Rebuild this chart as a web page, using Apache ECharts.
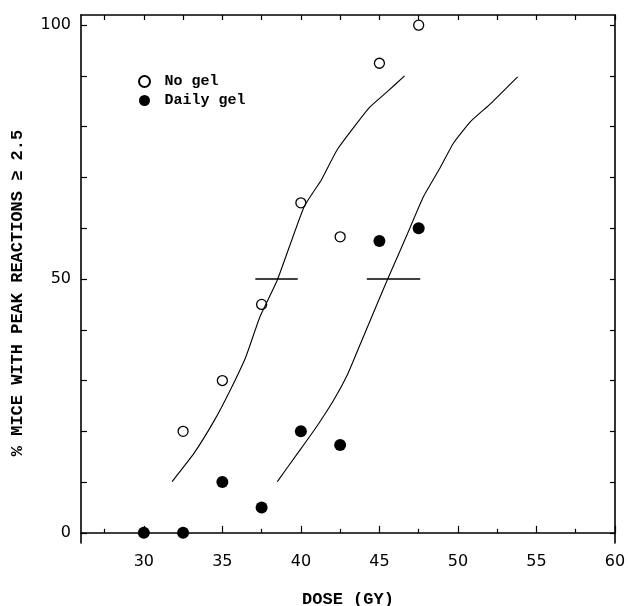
<!DOCTYPE html>
<html>
<head>
<meta charset="utf-8">
<script src="https://cdn.jsdelivr.net/npm/echarts@6/dist/echarts.min.js"></script>
<style>
html,body{margin:0;padding:0;background:#fff;}
#chart{width:628px;height:606px;}
</style>
</head>
<body>
<div id="chart"></div>
<script>
// Data
const noGelDose = [32.5, 35, 37.5, 40, 42.5, 45, 47.5];
const noGelPct = [20, 30, 45, 65, 58.3, 92.5, 100];
const dailyGelDose = [30, 32.5, 35, 37.5, 40, 42.5, 45, 47.5];
const dailyGelPct = [0, 0, 10, 5, 20, 17.3, 57.5, 60];

// Fitted curves
const noGelCurveX = [31.8, 33.2, 34.5, 35.5, 36.5, 37.4, 38.5, 40.2, 41.3, 42.3, 43.4, 44.4, 45.5, 46.6];
const noGelCurveY = [10.1, 15.7, 22.2, 28.1, 34.7, 42.6, 49.8, 64.2, 69.5, 75.4, 80.0, 83.9, 86.9, 90.0];
const dailyGelCurveX = [38.5, 39.8, 41.0, 42.1, 43.0, 43.8, 44.6, 45.5, 46.8, 47.8, 48.9, 49.7, 50.8, 52.1, 53.8];
const dailyGelCurveY = [10.1, 15.7, 20.9, 26.2, 31.4, 37.3, 43.2, 49.8, 59.0, 66.2, 72.1, 76.7, 81.0, 84.6, 89.8];

// ED50 markers
const noGelED50X = [37.1, 39.8];
const dailyGelED50X = [44.2, 47.6];
const ed50Level = 50;

// Ticks
const xMajorTicks = [30, 35, 40, 45, 50, 55, 60];
const xMinorTicks = [27.5, 32.5, 37.5, 42.5, 47.5, 52.5, 57.5];
const xAllTicks = [27.5, 30, 32.5, 35, 37.5, 40, 42.5, 45, 47.5, 50, 52.5, 55, 57.5, 60];
const yTicks = [0, 10, 20, 30, 40, 50, 60, 70, 80, 90, 100];
const yLabels = [0, 50, 100];

const zip = (a, b) => a.map((v, i) => [v, b[i]]);

const chart = echarts.init(document.getElementById('chart'), null, {renderer: 'canvas'});
const axisLine = {show: true, lineStyle: {color: '#000', width: 1.6}};
const labelFont = {color: '#000', fontFamily: 'DejaVu Sans', fontSize: 16};
const titleFont = {color: '#000', fontFamily: 'Liberation Mono', fontWeight: 'bold', fontSize: 17};

chart.setOption({
  animation: false,
  backgroundColor: '#fff',
  grid: {left: 81, right: 13, top: 15, bottom: 63, containLabel: false, outerBoundsMode: 'none'},
  legend: {
    left: 133, top: 69, orient: 'vertical', itemGap: 4,
    itemWidth: 30, itemHeight: 11,
    data: ['No gel', 'Daily gel'],
    textStyle: {color: '#000', fontFamily: 'Liberation Mono', fontWeight: 'bold', fontSize: 15}
  },
  xAxis: [
    {
      type: 'value', min: 26, max: 60, position: 'bottom',
      name: 'DOSE (GY)', nameLocation: 'middle', nameGap: 48, nameTextStyle: titleFont,
      axisLine: axisLine,
      axisTick: {show: true, inside: true, length: 7, lineStyle: {color: '#000', width: 1.2}, customValues: xMajorTicks},
      axisLabel: Object.assign({show: true, margin: 11, customValues: xMajorTicks}, labelFont),
      splitLine: {show: false}
    },
    {
      type: 'value', min: 26, max: 60, position: 'bottom',
      axisLine: {show: false},
      axisTick: {show: true, inside: true, length: 4, lineStyle: {color: '#000', width: 1.2}, customValues: xMinorTicks},
      axisLabel: {show: false},
      splitLine: {show: false}
    },
    {
      type: 'value', min: 26, max: 60, position: 'top',
      axisLine: axisLine,
      axisTick: {show: true, inside: true, length: 5, lineStyle: {color: '#000', width: 1.2}, customValues: xAllTicks},
      axisLabel: {show: false},
      splitLine: {show: false}
    }
  ],
  yAxis: [
    {
      type: 'value', min: -2, max: 102, position: 'left',
      name: '% MICE WITH PEAK REACTIONS ≥ 2.5', nameLocation: 'middle', nameGap: 55,
      nameTextStyle: Object.assign({padding: [0, 28, 0, 0]}, titleFont),
      axisLine: axisLine,
      axisTick: {show: true, inside: true, length: 6, lineStyle: {color: '#000', width: 1.2}, customValues: yTicks},
      axisLabel: Object.assign({show: true, margin: 10, customValues: yLabels}, labelFont),
      splitLine: {show: false}
    },
    {
      type: 'value', min: -2, max: 102, position: 'right',
      axisLine: axisLine,
      axisTick: {show: true, inside: true, length: 5, lineStyle: {color: '#000', width: 1.2}, customValues: yTicks},
      axisLabel: {show: false},
      splitLine: {show: false}
    }
  ],
  series: [
    {
      name: 'No gel curve', type: 'line', xAxisIndex: 0, yAxisIndex: 0,
      data: zip(noGelCurveX, noGelCurveY), smooth: 0.15, showSymbol: false,
      lineStyle: {color: '#000', width: 1.1}, silent: true
    },
    {
      name: 'Daily gel curve', type: 'line', xAxisIndex: 0, yAxisIndex: 0,
      data: zip(dailyGelCurveX, dailyGelCurveY), smooth: 0.15, showSymbol: false,
      lineStyle: {color: '#000', width: 1.1}, silent: true
    },
    {
      name: 'No gel ED50', type: 'line', data: zip(noGelED50X, [ed50Level, ed50Level]),
      showSymbol: false, lineStyle: {color: '#000', width: 1.3}, silent: true
    },
    {
      name: 'Daily gel ED50', type: 'line', data: zip(dailyGelED50X, [ed50Level, ed50Level]),
      showSymbol: false, lineStyle: {color: '#000', width: 1.3}, silent: true
    },
    {
      name: 'No gel', type: 'scatter', data: zip(noGelDose, noGelPct),
      symbol: 'circle', symbolSize: 10,
      itemStyle: {color: '#fff', borderColor: '#000', borderWidth: 1.3, opacity: 1}
    },
    {
      name: 'Daily gel', type: 'scatter', data: zip(dailyGelDose, dailyGelPct),
      symbol: 'circle', symbolSize: 12,
      itemStyle: {color: '#000', borderColor: '#000', borderWidth: 0, opacity: 1}
    }
  ]
});
</script>
</body>
</html>
